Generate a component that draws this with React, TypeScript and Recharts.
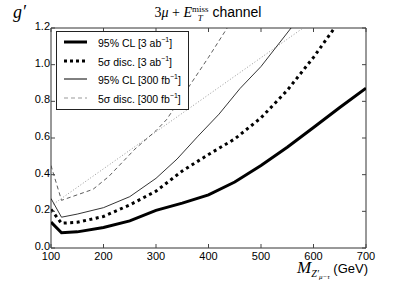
import React from "react";
import { LineChart, Line, XAxis, YAxis, ReferenceArea } from "recharts";

// Z' mass (GeV) and coupling g' for each curve
const massCL3 = [100, 120, 150, 200, 250, 300, 350, 400, 450, 500, 550, 600, 650, 700];
const gCL3 = [0.141, 0.083, 0.088, 0.112, 0.148, 0.205, 0.245, 0.29, 0.36, 0.45, 0.55, 0.657, 0.766, 0.872];

const massDisc3 = [100, 120, 150, 200, 250, 300, 350, 400, 450, 500, 550, 600, 650];
const gDisc3 = [0.21, 0.135, 0.14, 0.172, 0.235, 0.31, 0.42, 0.51, 0.595, 0.71, 0.86, 1.04, 1.24];

const massCL300 = [100, 120, 150, 200, 250, 300, 340, 380, 420, 460, 500, 560];
const gCL300 = [0.27, 0.168, 0.185, 0.22, 0.28, 0.38, 0.485, 0.61, 0.73, 0.87, 0.99, 1.21];

const massDisc300 = [100, 120, 180, 210, 260, 300, 320, 365, 400, 440];
const gDisc300 = [0.45, 0.26, 0.32, 0.39, 0.54, 0.64, 0.7, 0.89, 1.04, 1.22];

const massRef = [100, 600];
const gRef = [0.23, 1.24];

const xTicks = [100, 200, 300, 400, 500, 600, 700];
const yTicks = [0, 0.2, 0.4, 0.6, 0.8, 1.0, 1.2];

const legendItems = [
  { label: "95% CL [3 ab", color: "#000", width: 3, dash: undefined },
  { label: "5σ disc. [3 ab", color: "#000", width: 3, dash: "3 3" },
  { label: "95% CL [300 fb", color: "#000", width: 1, dash: undefined },
  { label: "5σ disc. [300 fb", color: "#999", width: 1, dash: "4 3" },
];

const zip = (xs: number[], ys: number[]) => xs.map((x, i) => ({ x, y: ys[i] }));

const W = 407;
const H = 285;
const PL = 51;
const PR = 366;
const PT = 28;
const PB = 248;

const font = "'Liberation Sans', Arial, sans-serif";
const serif = "'Liberation Serif', 'DejaVu Serif', serif";

const XTick = (props: any) => {
  const { x, payload } = props;
  return (
    <g>
      <line x1={x} x2={x} y1={PB} y2={PB - 4} stroke="#444" />
      <line x1={x} x2={x} y1={PT} y2={PT + 4} stroke="#444" />
      <text x={x} y={PB + 12} textAnchor="middle" fontSize={11} fontFamily={font} fill="#000">
        {payload.value}
      </text>
    </g>
  );
};

const YTick = (props: any) => {
  const { y, payload } = props;
  return (
    <g>
      <line x1={PL} x2={PL + 4} y1={y} y2={y} stroke="#444" />
      <line x1={PR} x2={PR - 4} y1={y} y2={y} stroke="#444" />
      <text x={PL - 1} y={y + 2} textAnchor="end" fontSize={11} fontFamily={font} fill="#000">
        {payload.value.toFixed(1)}
      </text>
    </g>
  );
};

const LegendBox = () => (
  <div
    style={{
      position: "absolute",
      left: 56,
      top: 31,
      border: "1px solid #222",
      background: "#fff",
      width: 131,
      height: 76,
      padding: "1px 0 0 0",
      fontFamily: font,
      fontSize: 10.5,
    }}
  >
    {legendItems.map((it) => (
      <div key={it.label} style={{ display: "flex", alignItems: "center", height: 18.5 }}>
        <svg width={36} height={10} style={{ marginLeft: 5 }}>
          <line x1={2} x2={25} y1={5} y2={5} stroke={it.color} strokeWidth={it.width} strokeDasharray={it.dash} />
        </svg>
        <span style={{ whiteSpace: "nowrap" }}>
          {it.label}
          <sup style={{ fontSize: 7 }}>−1</sup>]
        </span>
      </div>
    ))}
  </div>
);

export default function App() {
  return (
    <div style={{ position: "absolute", left: 0, top: 0, width: W, height: H, background: "#fff" }}>
      <LineChart width={W} height={H} margin={{ top: PT, right: W - PR, bottom: 17, left: 10 }}>
        <XAxis
          type="number"
          dataKey="x"
          domain={[100, 700]}
          ticks={xTicks}
          allowDataOverflow
          axisLine={false}
          tickLine={false}
          tick={<XTick />}
          height={H - PB - 17}
          interval={0}
        />
        <YAxis
          type="number"
          dataKey="y"
          domain={[0, 1.2]}
          ticks={yTicks}
          allowDataOverflow
          axisLine={false}
          tickLine={false}
          tick={<YTick />}
          width={PL - 10}
          interval={0}
        />
        <ReferenceArea x1={100} x2={700} y1={0} y2={1.2} fill="none" stroke="#333" strokeWidth={1} ifOverflow="visible" />
        <Line data={zip(massRef, gRef)} dataKey="y" stroke="#999" strokeWidth={1} strokeDasharray="1 2" dot={false} isAnimationActive={false} />
        <Line data={zip(massDisc300, gDisc300)} dataKey="y" stroke="#333" strokeWidth={0.8} strokeDasharray="4 3" dot={false} isAnimationActive={false} />
        <Line data={zip(massCL300, gCL300)} dataKey="y" stroke="#000" strokeWidth={0.8} dot={false} isAnimationActive={false} />
        <Line data={zip(massDisc3, gDisc3)} dataKey="y" stroke="#000" strokeWidth={3} strokeDasharray="3 3.5" dot={false} isAnimationActive={false} />
        <Line data={zip(massCL3, gCL3)} dataKey="y" stroke="#000" strokeWidth={3} dot={false} isAnimationActive={false} />
      </LineChart>
      <LegendBox />
      <div style={{ position: "absolute", left: 0, top: 4, width: 416, textAlign: "center", fontSize: 14, fontFamily: font }}>
        <span style={{ fontFamily: serif }}>
          3<i>μ</i> + <i>E</i>
          <span style={{ display: "inline-flex", flexDirection: "column", verticalAlign: "middle", lineHeight: "9px", fontSize: 9 }}>
            <span>miss</span>
            <i>T</i>
          </span>
        </span>{" "}
        channel
      </div>
      <div style={{ position: "absolute", left: 13, top: 2, fontFamily: serif, fontStyle: "italic", fontSize: 18 }}>
        g′
      </div>
      <div style={{ position: "absolute", left: 297, top: 258, fontSize: 13, fontFamily: font, whiteSpace: "nowrap" }}>
        <span style={{ fontFamily: serif, fontStyle: "italic", fontSize: 17 }}>M</span>
        <span style={{ fontFamily: serif, fontStyle: "italic", fontSize: 10, position: "relative", top: 4 }}>
          Z′
          <span style={{ fontSize: 7, position: "relative", top: 2 }}>μ−τ</span>
        </span>{" "}
        (GeV)
      </div>
    </div>
  );
}
